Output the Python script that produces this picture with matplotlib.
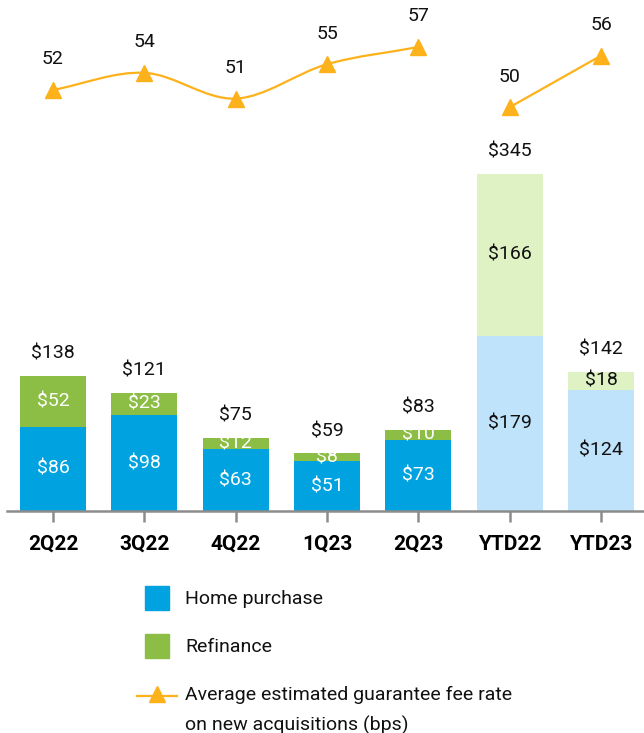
import matplotlib
matplotlib.use("Agg")
import matplotlib.pyplot as plt
import numpy as np
from matplotlib.path import Path
from matplotlib.patches import PathPatch, Rectangle
from matplotlib.lines import Line2D

plt.rcParams['font.family'] = ['Roboto', 'DejaVu Sans']

periods = ["2Q22", "3Q22", "4Q22", "1Q23", "2Q23", "YTD22", "YTD23"]
home_purchase = [86, 98, 63, 51, 73, 179, 124]
refinance = [52, 23, 12, 8, 10, 166, 18]
totals = [138, 121, 75, 59, 83, 345, 142]
gfee_bps = [52, 54, 51, 55, 57, 50, 56]

blue, green = "#00a3e0", "#8cbd45"
light_blue, light_green = "#bfe3fa", "#dff2c4"
orange = "#fdb11a"
gray = "#8c8c8c"
ink = "#111111"

W, H = 644, 733
fig = plt.figure(figsize=(W / 100, H / 100), dpi=100)

def fbox(x0, y0, x1, y1):
    # pixel box (top-left origin) -> figure fraction rect
    return [x0 / W, 1 - y1 / H, (x1 - x0) / W, (y1 - y0) / H]

x = np.arange(len(periods))
xlim = (-0.58, 6.47)

# stacked bars
ax = fig.add_axes(fbox(0, 159, W, 511))
ax.set_xlim(*xlim)
ax.set_ylim(0, 360)
bc = [blue] * 5 + [light_blue] * 2
gc = [green] * 5 + [light_green] * 2
ax.bar(x, home_purchase, width=0.72, color=bc)
ax.bar(x, refinance, width=0.72, bottom=home_purchase, color=gc)
for i in x:
    tc = "white" if i < 5 else ink
    ax.text(i, home_purchase[i] / 2, f"${home_purchase[i]}", ha="center", va="center",
            fontsize=14, color=tc)
    ax.text(i, home_purchase[i] + refinance[i] / 2, f"${refinance[i]}", ha="center",
            va="center", fontsize=14, color=tc)
    ax.annotate(f"${totals[i]}", (i, totals[i]), xytext=(0, 16), textcoords="offset points",
                ha="center", va="center", fontsize=14, color=ink)
for s in ["top", "right", "left"]:
    ax.spines[s].set_visible(False)
ax.spines["bottom"].set_color(gray)
ax.spines["bottom"].set_linewidth(1.8)
ax.spines["bottom"].set_bounds(xlim[0] + 7 / 91.3, xlim[1])
ax.set_yticks([])
ax.set_xticks(x)
ax.set_xticklabels(periods, fontsize=15, fontweight="bold")
ax.tick_params(axis="x", length=8, width=1.8, color=gray, pad=9)

# fee rate line
lx = fig.add_axes(fbox(0, 20, W, 130))
lx.set_xlim(*xlim)
lx.set_ylim(47.35, 60.14)
lx.axis("off")

def smooth_path(xs, ys):
    pts = np.column_stack([xs, ys]).astype(float)
    n = len(pts)
    tang = []
    for k in range(n):
        a = pts[max(k - 1, 0)]
        b = pts[min(k + 1, n - 1)]
        tang.append((b - a) / (2 if 0 < k < n - 1 else 1))
    verts = [pts[0]]
    codes = [Path.MOVETO]
    for k in range(n - 1):
        verts += [pts[k] + tang[k] / 3, pts[k + 1] - tang[k + 1] / 3, pts[k + 1]]
        codes += [Path.CURVE4] * 3
    return Path(verts, codes)

lx.add_patch(PathPatch(smooth_path(x[:5], gfee_bps[:5]), fill=False, edgecolor=orange, lw=1.6))
lx.plot(x[5:], gfee_bps[5:], color=orange, lw=1.6)
lx.plot(x, gfee_bps, linestyle="none", marker="^", markersize=11, color=orange)
for i in x:
    lx.annotate(str(gfee_bps[i]), (i, gfee_bps[i]), xytext=(0, 22), textcoords="offset points",
                ha="center", va="center", fontsize=14, color=ink)

# legend
fig.add_artist(Rectangle((145 / W, 1 - 610 / H), 24 / W, 24 / H, transform=fig.transFigure,
                         color=blue))
fig.add_artist(Rectangle((145 / W, 1 - 658 / H), 24 / W, 24 / H, transform=fig.transFigure,
                         color=green))
fig.add_artist(Line2D([137 / W, 177 / W], [1 - 696 / H] * 2, transform=fig.transFigure,
                      color=orange, lw=1.6))
fig.add_artist(Line2D([157 / W], [1 - 694 / H], transform=fig.transFigure, marker="^",
                      markersize=11, color=orange))
fig.text(185 / W, 1 - 599 / H, "Home purchase", fontsize=14, va="center", color=ink)
fig.text(185 / W, 1 - 647 / H, "Refinance", fontsize=14, va="center", color=ink)
fig.text(185 / W, 1 - 695 / H, "Average estimated guarantee fee rate", fontsize=14,
         va="center", color=ink)
fig.text(185 / W, 1 - 725 / H, "on new acquisitions (bps)", fontsize=14, va="center",
         color=ink)

fig.savefig("out.png", dpi=100)
